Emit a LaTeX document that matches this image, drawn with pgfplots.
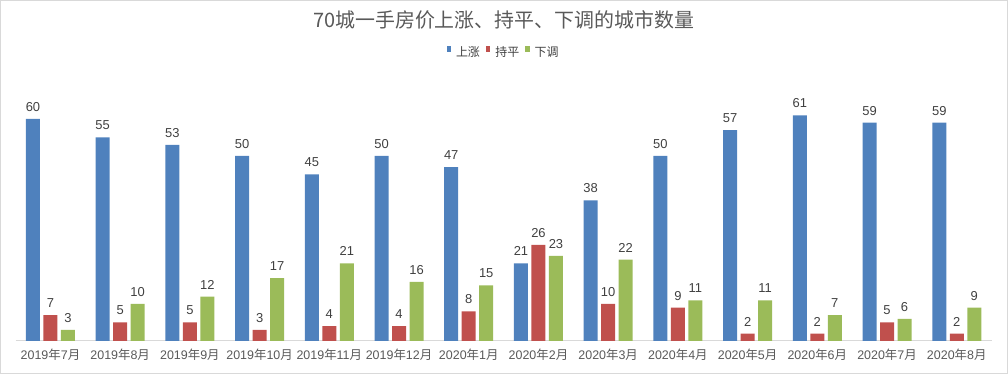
\documentclass[border=0pt]{standalone}
\usepackage{pgfplots}
\pgfplotsset{compat=1.18}
\usepackage{fontspec}
\setmainfont{Liberation Sans}
\newfontfamily\cjk{Noto Sans CJK SC}
\definecolor{cBlue}{HTML}{4F81BD}
\definecolor{cRed}{HTML}{C0504D}
\definecolor{cGreen}{HTML}{9BBB59}
\definecolor{cText}{HTML}{404040}
\definecolor{cTick}{HTML}{595959}
\definecolor{cLine}{HTML}{D9D9D9}
\newcommand{\ym}[2]{#1{\cjk 年}#2{\cjk 月}}
\begin{document}
\begin{tikzpicture}
\path[use as bounding box, draw=cLine, line width=1bp] (0.5bp,0.5bp) rectangle (1007.5bp,373.5bp);
\begin{axis}[
  at={(15.6bp,33bp)}, anchor=south west,
  scale only axis,
  width=976bp, height=240.5bp,
  ybar=3.5bp, bar width=14bp,
  xmin=-0.5, xmax=13.5, ymin=0, ymax=65,
  xtick={0,...,13},
  xticklabels={\ym{2019}{7},\ym{2019}{8},\ym{2019}{9},\ym{2019}{10},\ym{2019}{11},\ym{2019}{12},\ym{2020}{1},\ym{2020}{2},\ym{2020}{3},\ym{2020}{4},\ym{2020}{5},\ym{2020}{6},\ym{2020}{7},\ym{2020}{8}},
  xticklabel style={font=\fontsize{12.5}{14}\selectfont, text=cTick, yshift=-4pt},
  major tick length=0pt,
  axis x line*=bottom,
  axis y line=none,
  x axis line style={draw=cLine, line width=1bp, -},
  clip=false,
  /pgf/number format/assume math mode=true,
  nodes near coords,
  every node near coord/.append style={font=\fontsize{13}{15}\selectfont, text=cText, yshift=4pt},
  title={\cjk 70城一手房价上涨、持平、下调的城市数量},
  title style={at={(0.5,1.31)}, anchor=center, font=\cjk\fontsize{20}{24}\selectfont, text=cTick},
  legend style={at={(0.5,1.2)}, anchor=center, draw=none, legend columns=3, font=\cjk\fontsize{12}{14}\selectfont, text=cText, /tikz/every even column/.append style={column sep=4pt}, /tikz/every odd column/.append style={column sep=3pt}},
]
\addplot[fill=cBlue, draw=none, legend image code/.code={\fill[cBlue] (0.1em,0.05em) rectangle (0.55em,0.6em);}] coordinates {(0,60) (1,55) (2,53) (3,50) (4,45) (5,50) (6,47) (7,21) (8,38) (9,50) (10,57) (11,61) (12,59) (13,59)};
\addplot[fill=cRed, draw=none, legend image code/.code={\fill[cRed] (0.1em,0.05em) rectangle (0.55em,0.6em);}] coordinates {(0,7) (1,5) (2,5) (3,3) (4,4) (5,4) (6,8) (7,26) (8,10) (9,9) (10,2) (11,2) (12,5) (13,2)};
\addplot[fill=cGreen, draw=none, legend image code/.code={\fill[cGreen] (0.1em,0.05em) rectangle (0.55em,0.6em);}] coordinates {(0,3) (1,10) (2,12) (3,17) (4,21) (5,16) (6,15) (7,23) (8,22) (9,11) (10,11) (11,7) (12,6) (13,9)};
\legend{上涨,持平,下调}
\end{axis}
\end{tikzpicture}
\end{document}
